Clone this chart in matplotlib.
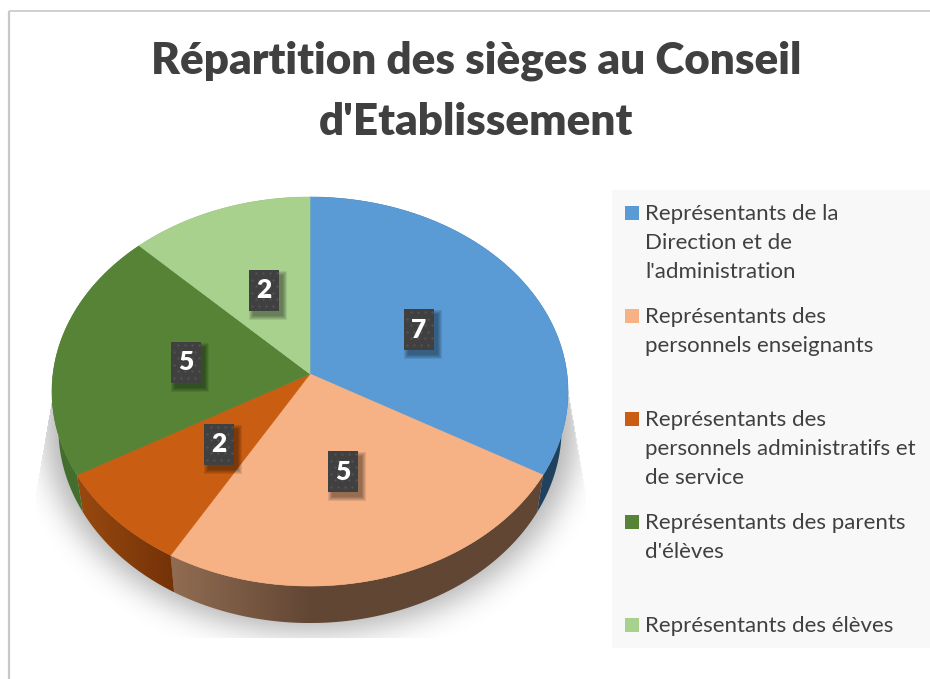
import numpy as np
import matplotlib
matplotlib.use("Agg")
import matplotlib.pyplot as plt
from matplotlib.patches import Polygon, Rectangle

plt.rcParams["font.family"] = ["Lato", "DejaVu Sans"]

# Slice sizes as drawn; the printed labels differ from them in the source chart
slice_sizes = [8, 6, 2, 5, 3]
shown_labels = ["7", "5", "2", "5", "2"]
slice_colors = ["#5B9BD5", "#F6B285", "#C95D12", "#568336", "#A9D18E"]
legend_labels = [
    ["Représentants de la", "Direction et de", "l'administration"],
    ["Représentants des", "personnels enseignants"],
    ["Représentants des", "personnels administratifs et", "de service"],
    ["Représentants des parents", "d'élèves"],
    ["Représentants des élèves"],
]
title_lines = ["Répartition des sièges au Conseil", "d'Etablissement"]

# Layout, in reference pixels
label_xy = [(419, 329), (343, 471), (219, 444), (186, 362), (264, 290)]
legend_y = [214, 317, 420, 523, 626]
LINE_H = 29.2
DEPTH = 37
TEXT_COLOR = "#404040"
# side wall colours: (left colour, right colour, fraction of width where right starts)
side_shades = [
    ((32, 66, 95), (32, 66, 95), 1.0),
    ((145, 108, 82), (97, 70, 52), 0.38),
    ((153, 73, 15), (115, 50, 8), 1.0),
    ((68, 110, 45), (68, 110, 45), 1.0),
    ((120, 150, 100), (120, 150, 100), 1.0),
]


def project(theta, scale=1.0, drop=0.0):
    # tilted disc under perspective, theta clockwise from the top
    u, v = np.sin(theta), np.cos(theta)
    w = 1 + 0.09 * v
    return 310 + 257 * scale * u / w, (374 - 159.3 * v) / w + drop


def blur(img, sigma):
    r = int(3 * sigma)
    k = np.exp(-0.5 * (np.arange(-r, r + 1) / sigma) ** 2)
    k /= k.sum()
    img = np.array([np.convolve(row, k, mode="same") for row in img])
    return np.array([np.convolve(col, k, mode="same") for col in img.T]).T


fig = plt.figure(figsize=(9.3, 6.79), dpi=100)
ax = fig.add_axes([0, 0, 1, 1])

# frame of the pasted chart
ax.plot([8.5, 8.5], [679, 10.5], color="#c8c8c8", lw=1.6, solid_capstyle="butt")
ax.plot([8.5, 930], [10.5, 10.5], color="#c8c8c8", lw=1.2, solid_capstyle="butt")

# soft shadow under the disc
yy, xx = np.mgrid[0:679, 0:930]
mask = (((xx - 310) / 266.0) ** 2 + ((yy - 425) / 207.0) ** 2 < 1).astype(float)
alpha = blur(mask, 15) * 0.3
half = 274 - (490 - np.clip(yy, 385, 490)) * 18 / 105.0
alpha[(np.abs(xx - 310) > half) | (yy > 637) | (yy < 385)] = 0
shadow = np.zeros((679, 930, 4))
shadow[..., 3] = alpha
ax.imshow(shadow, extent=(0, 930, 679, 0), aspect="auto", zorder=1)

# slice boundaries from the values
edges = np.concatenate([[0], np.cumsum(slice_sizes)]) / np.sum(slice_sizes) * 2 * np.pi

# side wall, each slice with its own horizontal gradient
for i in range(len(slice_sizes)):
    th = np.linspace(edges[i], edges[i + 1], 120)
    tx, ty = project(th)
    bx, by = project(th, scale=0.975, drop=DEPTH)
    pts = np.column_stack([np.r_[tx, bx[::-1]], np.r_[ty, by[::-1]]])
    x0, x1 = pts[:, 0].min(), pts[:, 0].max()
    c0, c1, stop = side_shades[i]
    f = np.clip(np.linspace(0, 1, 200) / stop, 0, 1)[None, :, None]
    grad = (np.array(c0) * (1 - f) + np.array(c1) * f) / 255.0
    im = ax.imshow(grad, extent=(x0, x1, pts[:, 1].max(), pts[:, 1].min()),
                   aspect="auto", zorder=2, interpolation="bilinear")
    im.set_clip_path(Polygon(pts, closed=True, transform=ax.transData))

# top of the disc
for i, color in enumerate(slice_colors):
    th = np.linspace(edges[i], edges[i + 1], 120)
    tx, ty = project(th)
    ax.fill(np.r_[310, tx], np.r_[374, ty], color=color, lw=0.4, zorder=3)

# data labels: dark textured boxes with a drop shadow to the lower right
for (cx, cy), lab in zip(label_xy, shown_labels):
    for grow in [4, 3, 2, 1, 0]:
        ax.add_patch(Rectangle((cx - 15 + 4 - grow, cy - 20.5 + 5 - grow),
                               30 + 2 * grow, 41 + 2 * grow, fc="black", ec="none",
                               alpha=0.09, zorder=4))
    ax.add_patch(Rectangle((cx - 15, cy - 20.5), 30, 41, fc="#404040", ec="none", zorder=5))
    for row, dy in enumerate(np.arange(-17, 19, 6.5)):
        shift = 0 if row % 2 else 3.5
        ax.scatter(cx - 12 + shift + np.arange(0, 25, 7), np.full(4, cy + dy), s=3,
                   color="#525252", linewidths=0, zorder=6)
    ax.text(cx, cy + 0.5, lab, color="white", fontsize=19, fontweight="heavy",
            ha="center", va="center", zorder=7)

# title
ax.text(476, 61, title_lines[0], color=TEXT_COLOR, fontsize=31.7, fontweight="heavy",
        ha="center", va="center")
ax.text(476, 122, title_lines[1], color=TEXT_COLOR, fontsize=31.7, fontweight="heavy",
        ha="center", va="center")

# legend panel
ax.add_patch(Rectangle((612, 190), 318, 458, fc="#F8F8F8", ec="none", zorder=1))
for color, y0, lines in zip(slice_colors, legend_y, legend_labels):
    ax.add_patch(Rectangle((625, y0 - 8), 14, 14, fc=color, ec="none", zorder=2))
    for j, line in enumerate(lines):
        ax.text(645, y0 + j * LINE_H, line, color=TEXT_COLOR, fontsize=16,
                ha="left", va="center", zorder=3)

ax.set_xlim(0, 930)
ax.set_ylim(679, 0)
ax.axis("off")
fig.savefig("out.png", dpi=100, facecolor="white")
